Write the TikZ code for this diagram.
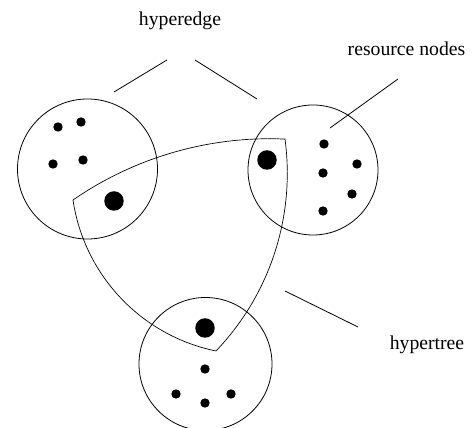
\documentclass[tikz,border=0pt]{standalone}
\usepackage{fontspec}
\setmainfont{Liberation Serif}
\begin{document}
\begin{tikzpicture}[x=1pt,y=1pt,
  group/.style={draw=black,line width=0.8pt,circle,minimum size=#1,inner sep=0pt},
  smalldot/.style={fill=black,circle,minimum size=9.4pt,inner sep=0pt},
  bigdot/.style={fill=black,circle,minimum size=19.5pt,inner sep=0pt},
  pointer/.style={draw=black,line width=0.8pt},
  tree/.style={draw=black,line width=0.7pt,dash pattern=on 1.5pt off 0.3pt},
  lbl/.style={font=\fontsize{19.7}{23}\selectfont,inner sep=0pt,anchor=base}]
\useasboundingbox (0,0) rectangle (475,428);
\begin{scope}
\clip (0,0) rectangle (475,428);
% resource groups
\node[group=140pt] (g1) at (87.5,259) {};
\node[group=130pt] (g2) at (313,258) {};
\node[group=133pt] (g3) at (205.5,64) {};
\end{scope}
% small resource nodes
\node[smalldot] (l1) at (58,301) {};
\node[smalldot] (l2) at (81,306) {};
\node[smalldot] (l3) at (53,264) {};
\node[smalldot] (l4) at (83,268) {};
\node[smalldot] (r1) at (324,284) {};
\node[smalldot] (r2) at (357,264) {};
\node[smalldot] (r3) at (323,255) {};
\node[smalldot] (r4) at (352,234) {};
\node[smalldot] (r5) at (323,217) {};
\node[smalldot] (b1) at (205,59) {};
\node[smalldot] (b2) at (176,34) {};
\node[smalldot] (b3) at (205,25) {};
\node[smalldot] (b4) at (231,34) {};
% big nodes
\node[bigdot] (k1) at (114,227) {};
\node[bigdot] (k2) at (267,268) {};
\node[bigdot] (k3) at (205,100) {};
% hypertree region
\coordinate (A) at (73,228);
\coordinate (B) at (285,289);
\coordinate (V) at (216,77);
\draw[tree] (A) arc[start angle=124.62,end angle=87.47,radius=346]
  -- (B) arc[start angle=7.67,end angle=-43.74,radius=257]
  -- (V) arc[start angle=258.4,end angle=188.5,radius=181.5] -- cycle;
% labels
\node[lbl] (he) at (180,402) {hyperedge};
\node[lbl] (rn) at (406.5,372) {resource nodes};
\node[lbl] (ht) at (427,78) {hypertree};
% pointer lines
\coordinate (he1a) at (114,336);
\coordinate (he1b) at (167,368);
\coordinate (he2a) at (195,368);
\coordinate (he2b) at (257,329);
\coordinate (rna) at (398,349);
\coordinate (rnb) at (330,300);
\coordinate (hta) at (285,137);
\coordinate (htb) at (358,101);
\draw[pointer] (he1a) -- (he1b);
\draw[pointer] (he2a) -- (he2b);
\draw[pointer] (rna) -- (rnb);
\draw[pointer] (hta) -- (htb);
\end{tikzpicture}
\end{document}
